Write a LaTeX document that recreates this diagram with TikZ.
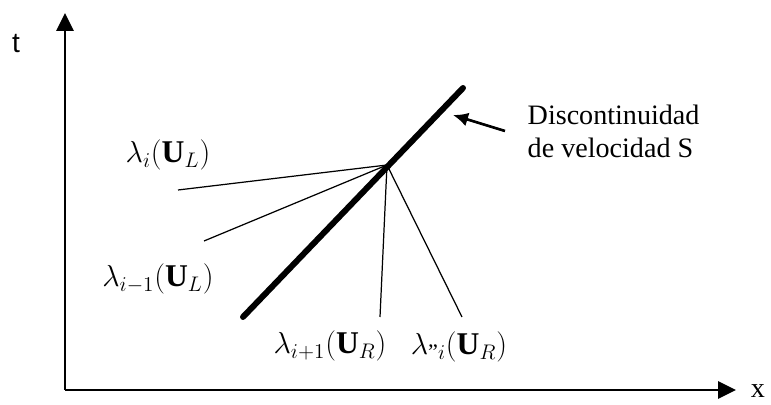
\documentclass[tikz,border=0pt]{standalone}
\usepackage{amsmath}
\usepackage{fontspec}
\setmainfont{Liberation Serif}
\newfontfamily\axisfont{Liberation Sans}
\usetikzlibrary{arrows.meta, positioning}

\begin{document}
\begin{tikzpicture}[x=0.2mm, y=-0.2mm, thick,
    axis/.style={line width=1.7pt, -{Triangle[length=3.6mm, width=3.4mm]}},
    shock/.style={line width=3.4pt, line cap=round},
    wave/.style={line width=0.7pt},
    lbl/.style={font=\fontsize{18}{20}\selectfont, inner sep=0pt}]
    \useasboundingbox (0,0) rectangle (771,405);

    % Axes
    \coordinate (o) at (65,390);
    \coordinate (tend) at (65,13);
    \coordinate (xend) at (736,390);
    \draw [axis] (o) -- (tend);
    \draw [axis] (o) -- (xend);
    \node [font=\axisfont\fontsize{16}{18}\selectfont, inner sep=0pt] (t) at (16,44) {t};
    \node [font=\fontsize{16}{18}\selectfont, inner sep=0pt] (x) at (758,391) {x};

    % Discontinuity
    \coordinate (sb) at (243,317);
    \coordinate (st) at (463,88);
    \coordinate (fan) at (387,165);
    \draw [shock] (sb) -- (st);

    % Waves
    \coordinate (w1) at (178,190);
    \coordinate (w2) at (204,241);
    \coordinate (w3) at (380,317);
    \coordinate (w4) at (462,317);
    \draw [wave] (fan) -- (w1);
    \draw [wave] (fan) -- (w2);
    \draw [wave] (fan) -- (w3);
    \draw [wave] (fan) -- (w4);

    % Labels
    \node [lbl] (l1) at (168,155) {$\lambda_i(\mathbf{U}_L)$};
    \node [lbl] (l2) at (158,279) {$\lambda_{i-1}(\mathbf{U}_L)$};
    \node [lbl] (l3) at (330,346) {$\lambda_{i+1}(\mathbf{U}_R)$};
    \node [lbl] (l4) at (459,347) {$\lambda_{\text{"}i}(\mathbf{U}_R)$};

    % Annotation
    \node [font=\fontsize{16}{19}\selectfont, align=left, anchor=north west, inner sep=0pt] (note) at (527,104) {Discontinuidad\\de velocidad S};
    \coordinate (ntail) at (505,131);
    \coordinate (nhead) at (453,115);
    \draw [line width=1.5pt, -{Latex[length=3mm, width=2.8mm]}] (ntail) -- (nhead);
\end{tikzpicture}
\end{document}
